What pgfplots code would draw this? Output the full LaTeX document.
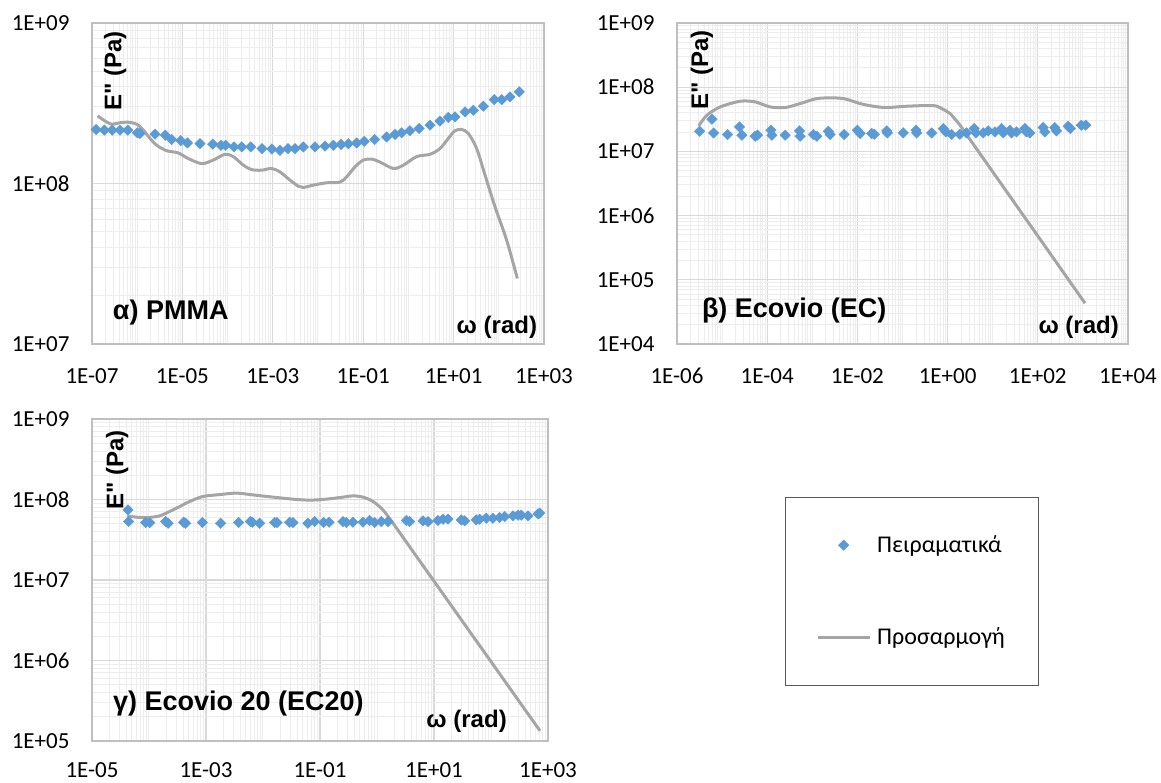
\documentclass[border=0pt]{standalone}
\usepackage{fontspec}
\setmainfont{Carlito}
\newfontfamily\arialf{Liberation Sans}
\usepackage{pgfplots}
\pgfplotsset{compat=1.18}

\definecolor{exblue}{HTML}{5B9BD5}
\definecolor{exgray}{HTML}{A5A5A5}
\definecolor{gridmaj}{HTML}{D9D9D9}
\definecolor{gridmin}{HTML}{EDEDED}
\definecolor{axline}{HTML}{BFBFBF}

\newcommand\lab{\arialf\bfseries\fontsize{24}{28}\selectfont}
\newcommand\tit{\arialf\bfseries\fontsize{27}{31}\selectfont}
\newcommand\tck{\fontsize{23}{27}\selectfont}
\newcommand\leg{\fontsize{24}{28}\selectfont}
% y tick label in a fixed box, so Excel's gap before the axis is kept
\newcommand\yl[1]{\makebox[80pt][l]{#1}}

% minor grid lists (log axes, Excel style), expanded into styles
\def\dec#1{2e#1,3e#1,4e#1,5e#1,6e#1,7e#1,8e#1,9e#1}
\def\decf#1{1e#1,\dec{#1}}
\edef\tmp{\noexpand\pgfplotsset{
  gridA/.style={
    minor xtick={\dec{-7},\decf{-6},\dec{-5},\decf{-4},\dec{-3},\decf{-2},\dec{-1},\decf{0},\dec{1},\decf{2}},
    minor ytick={\dec{7},\dec{8}}},
  gridB/.style={
    minor xtick={\dec{-6},\decf{-5},\dec{-4},\decf{-3},\dec{-2},\decf{-1},\dec{0},\decf{1},\dec{2},\decf{3}},
    minor ytick={\dec{4},\dec{5},\dec{6},\dec{7},\dec{8}}},
  gridC/.style={
    minor xtick={\dec{-5},\decf{-4},\dec{-3},\decf{-2},\dec{-1},\decf{0},\dec{1},\decf{2}},
    minor ytick={\dec{5},\dec{6},\dec{7},\dec{8}}}}}
\tmp

\pgfplotsset{
  xlchart/.style={
    scale only axis, anchor=south west,
    xmajorgrids, ymajorgrids, xminorgrids, yminorgrids,
    major grid style={draw=gridmaj, line width=1.2pt},
    minor grid style={draw=gridmin, line width=1pt},
    axis line style={draw=axline, line width=1.2pt},
    major tick length=0pt, minor tick length=0pt,
    tick label style={font=\tck, inner sep=0pt},
    xticklabel style={anchor=north, yshift=-24pt},
    yticklabel style={anchor=east},
  },
  mk/.style={only marks, mark=square*, mark size=3.7pt,
    mark options={rotate=45, fill=exblue, draw=exblue}},
  ft/.style={no marks, draw=exgray, line width=3pt, smooth, line join=round},
}
\tikzset{txt/.style={inner sep=0pt}}

\begin{document}
\begin{tikzpicture}
\useasboundingbox (0pt,0pt) rectangle (1161pt,782pt);

% a) PMMA
\begin{loglogaxis}[xlchart, gridA, at={(92pt,438pt)}, width=452pt, height=321pt,
  xmin=1e-7, xmax=1e3, ymin=1e7, ymax=1e9,
  xtick={1e-7,1e-5,1e-3,1e-1,1e1,1e3},
  xticklabels={1E-07,1E-05,1E-03,1E-01,1E+01,1E+03},
  ytick={1e7,1e8,1e9}, yticklabels={\yl{1E+07},\yl{1E+08},\yl{1E+09}}]
\addplot[mk] coordinates {
(1.23e-7,2.17e8) (1.88e-7,2.15e8) (2.82e-7,2.15e8) (4.16e-7,2.15e8) (6.15e-7,2.15e8)
(1.01e-6,2.07e8) (1.15e-6,2.05e8) (2.48e-6,2.03e8) (4.19e-6,2.00e8) (5.79e-6,1.88e8)
(9.16e-6,1.85e8) (1.29e-5,1.79e8) (2.45e-5,1.77e8) (4.68e-5,1.76e8) (7.14e-5,1.73e8)
(9.06e-5,1.73e8) (1.39e-4,1.69e8) (2.05e-4,1.69e8) (3.24e-4,1.69e8) (5.77e-4,1.65e8)
(9.59e-4,1.64e8) (1.44e-3,1.61e8) (2.17e-3,1.65e8) (3.10e-3,1.65e8) (4.74e-3,1.69e8)
(8.59e-3,1.69e8) (1.43e-2,1.71e8) (2.18e-2,1.73e8) (3.23e-2,1.75e8) (4.69e-2,1.77e8)
(7.16e-2,1.79e8) (0.106,1.83e8) (0.179,1.88e8) (0.330,1.95e8) (0.506,2.02e8)
(0.709,2.07e8) (1.08,2.13e8) (1.72,2.20e8) (3.01,2.31e8) (5.00,2.45e8)
(7.65,2.58e8) (10.7,2.60e8) (17.9,2.79e8) (27.4,2.86e8) (45.5,3.03e8)
(79.6,3.33e8) (116,3.33e8) (177,3.46e8) (284,3.72e8)};
\addplot[ft] coordinates {
(1.33e-7,2.64e8) (1.94e-7,2.45e8) (2.72e-7,2.34e8) (4.16e-7,2.39e8) (6.37e-7,2.41e8)
(9.73e-7,2.34e8) (1.37e-6,2.15e8) (1.92e-6,1.91e8) (2.70e-6,1.73e8) (4.49e-6,1.60e8)
(8.13e-6,1.55e8) (1.35e-5,1.43e8) (2.67e-5,1.33e8) (4.83e-5,1.40e8) (8.75e-5,1.52e8)
(1.34e-4,1.47e8) (2.23e-4,1.30e8) (3.41e-4,1.22e8) (5.67e-4,1.21e8) (9.44e-4,1.24e8)
(1.44e-3,1.18e8) (2.40e-3,1.05e8) (3.67e-3,9.62e7) (4.74e-3,9.44e7) (7.89e-3,9.77e7)
(1.56e-2,1.01e8) (3.07e-2,1.02e8) (4.31e-2,1.10e8) (6.59e-2,1.27e8) (0.101,1.40e8)
(0.154,1.42e8) (0.235,1.36e8) (0.465,1.24e8) (0.773,1.30e8) (1.52,1.47e8)
(3.01,1.52e8) (5.00,1.65e8) (7.65,1.91e8) (10.7,2.13e8) (15.1,2.17e8)
(21.2,2.05e8) (32.4,1.65e8) (49.5,1.13e8) (82.4,7.16e7) (149,4.44e7) (257,2.56e7)};
\node[txt, rotate=90, font=\lab] at (rel axis cs:0.051,0.850) {E" (Pa)};
\node[txt, anchor=base west, font=\tit] at (rel axis cs:0.046,0.075) {α) PMMA};
\node[txt, anchor=base east, font=\lab] at (rel axis cs:0.985,0.034) {ω (rad)};
\end{loglogaxis}

% b) Ecovio (EC)
\begin{loglogaxis}[xlchart, gridB, at={(677pt,438pt)}, width=451pt, height=321pt,
  xmin=1e-6, xmax=1e4, ymin=1e4, ymax=1e9,
  xtick={1e-6,1e-4,1e-2,1e0,1e2,1e4},
  xticklabels={1E-06,1E-04,1E-02,1E+00,1E+02,1E+04},
  ytick={1e4,1e5,1e6,1e7,1e8,1e9},
  yticklabels={\yl{1E+04},\yl{1E+05},\yl{1E+06},\yl{1E+07},\yl{1E+08},\yl{1E+09}}]
\addplot[mk] coordinates {
(3.18e-6,2.06e7) (5.96e-6,3.17e7) (6.49e-6,1.94e7) (1.32e-5,1.83e7) (2.44e-5,2.41e7)
(2.75e-5,1.79e7) (5.42e-5,1.72e7) (6.10e-5,1.79e7) (1.21e-4,2.14e7) (1.27e-4,1.79e7)
(2.50e-4,1.79e7) (5.20e-4,2.09e7) (5.38e-4,1.72e7) (1.06e-3,1.83e7) (1.26e-3,1.72e7)
(2.28e-3,2.06e7) (2.48e-3,1.83e7) (5.07e-3,1.83e7) (1.00e-2,2.14e7) (1.15e-2,1.90e7)
(2.08e-2,1.90e7) (2.38e-2,1.85e7) (4.46e-2,2.09e7) (4.61e-2,1.94e7) (0.104,1.94e7)
(0.199,2.14e7) (0.206,1.94e7) (0.443,1.94e7) (0.802,2.27e7) (0.918,2.01e7)
(1.23,1.83e7) (1.88,1.85e7) (2.63,1.94e7) (3.89,2.27e7) (4.24,1.94e7)
(6.16,1.94e7) (7.95,2.09e7) (11.2,2.01e7) (15.7,2.27e7) (17.1,1.94e7)
(24.0,2.14e7) (26.1,1.94e7) (33.7,2.01e7) (51.6,2.27e7) (56.1,2.01e7)
(66.5,1.94e7) (131,2.35e7) (143,2.01e7) (238,2.35e7) (259,2.09e7)
(470,2.47e7) (529,2.27e7) (926,2.56e7) (1156,2.56e7)};
\addplot[ft] coordinates {
(3.02e-6,2.50e7) (4.61e-6,3.66e7) (9.10e-6,4.93e7) (2.52e-5,6.04e7) (5.42e-5,5.90e7)
(1.16e-4,4.93e7) (2.50e-4,4.82e7) (5.38e-4,5.56e7) (1.26e-3,6.65e7) (2.94e-3,6.81e7)
(5.34e-3,6.57e7) (1.15e-2,5.56e7) (2.26e-2,5.05e7) (4.46e-2,4.82e7) (0.124,5.05e7)
(0.482,5.17e7) (0.736,4.65e7) (1.13,3.88e7) (1.88,2.56e7) (3.12,1.54e7)
(6.16,7.81e6) (20.2,2.38e6) (111,4.34e5) (605,7.95e4) (1114,4.32e4)};
\node[txt, rotate=90, font=\lab] at (rel axis cs:0.055,0.853) {E" (Pa)};
\node[txt, anchor=base west, font=\tit] at (rel axis cs:0.055,0.084) {β) Ecovio (EC)};
\node[txt, anchor=base east, font=\lab] at (rel axis cs:0.980,0.034) {ω (rad)};
\end{loglogaxis}

% c) Ecovio 20 (EC20)
\begin{loglogaxis}[xlchart, gridC, at={(92pt,41pt)}, width=456pt, height=322pt,
  xmin=1e-5, xmax=1e3, ymin=1e5, ymax=1e9,
  xtick={1e-5,1e-3,1e-1,1e1,1e3},
  xticklabels={1E-05,1E-03,1E-01,1E+01,1E+03},
  xticklabel style={anchor=north, yshift=3pt},
  ytick={1e5,1e6,1e7,1e8,1e9},
  yticklabels={\yl{1E+05},\yl{1E+06},\yl{1E+07},\yl{1E+08},\yl{1E+09}},
  legend image code/.code={\draw[mark repeat=2,mark phase=2,#1] plot coordinates {(0pt,0pt) (26pt,0pt) (52pt,0pt)};},
  legend cell align=left,
  legend style={at={(1.5197,0.7578)}, anchor=north west, draw=black!65,
    fill=white, inner xsep=31pt, inner ysep=33pt, row sep=62pt, font=\leg,
    nodes={inner sep=0pt, text width=130pt, minimum height=30pt, align=left},
    /tikz/every odd column/.append style={column sep=6pt}}]
\addplot[mk] coordinates {
(4.28e-5,7.44e7) (4.40e-5,5.32e7) (8.75e-5,5.17e7) (1.03e-4,5.17e7) (1.96e-4,5.32e7)
(2.16e-4,5.07e7) (4.06e-4,5.22e7) (4.40e-4,5.07e7) (8.63e-4,5.17e7) (1.81e-3,5.07e7)
(3.74e-3,5.17e7) (6.00e-3,5.32e7) (6.50e-3,5.22e7) (8.75e-3,5.07e7) (1.60e-2,5.17e7)
(1.76e-2,5.17e7) (2.94e-2,5.22e7) (3.36e-2,5.17e7) (6.15e-2,5.07e7) (8.05e-2,5.32e7)
(0.116,5.17e7) (0.144,5.22e7) (0.253,5.32e7) (0.290,5.17e7) (0.379,5.22e7)
(0.568,5.22e7) (0.743,5.48e7) (0.910,5.17e7) (1.19,5.32e7) (1.56,5.32e7)
(3.27,5.48e7) (3.74,5.32e7) (6.41,5.43e7) (7.85,5.32e7) (11.7,5.48e7)
(14.4,5.69e7) (17.6,5.69e7) (30.2,5.58e7) (34.5,5.43e7) (55.3,5.58e7)
(63.3,5.69e7) (82.8,5.86e7) (108,5.86e7) (142,5.97e7) (174,6.14e7)
(243,6.26e7) (298,6.38e7) (340,6.38e7) (445,6.26e7) (668,6.63e7) (715,6.76e7)};
\addlegendentry{Πειραματικά}
\addplot[ft] coordinates {
(4.17e-5,6.26e7) (6.00e-5,6.03e7) (8.98e-5,5.97e7) (1.54e-4,6.26e7) (3.02e-4,7.80e7)
(5.17e-4,9.44e7) (8.85e-4,1.09e8) (1.74e-3,1.15e8) (3.40e-3,1.20e8) (6.68e-3,1.14e8)
(1.50e-2,1.07e8) (3.36e-2,1.01e8) (6.59e-2,9.82e7) (0.129,1.01e8) (0.253,1.07e8)
(0.379,1.11e8) (0.568,1.07e8) (0.851,9.44e7) (1.27,7.44e7) (1.91,5.07e7)
(3.74,2.59e7) (7.33,1.32e7) (28.2,3.43e6) (108,8.97e5) (417,2.32e5) (724,1.34e5)};
\addlegendentry{Προσαρμογή}
\node[txt, rotate=90, font=\lab] at (rel axis cs:0.055,0.842) {E" (Pa)};
\node[txt, anchor=base west, font=\tit] at (rel axis cs:0.046,0.096) {γ) Ecovio 20 (EC20)};
\node[txt, anchor=base east, font=\lab] at (rel axis cs:0.910,0.043) {ω (rad)};
\end{loglogaxis}
\end{tikzpicture}
\end{document}
